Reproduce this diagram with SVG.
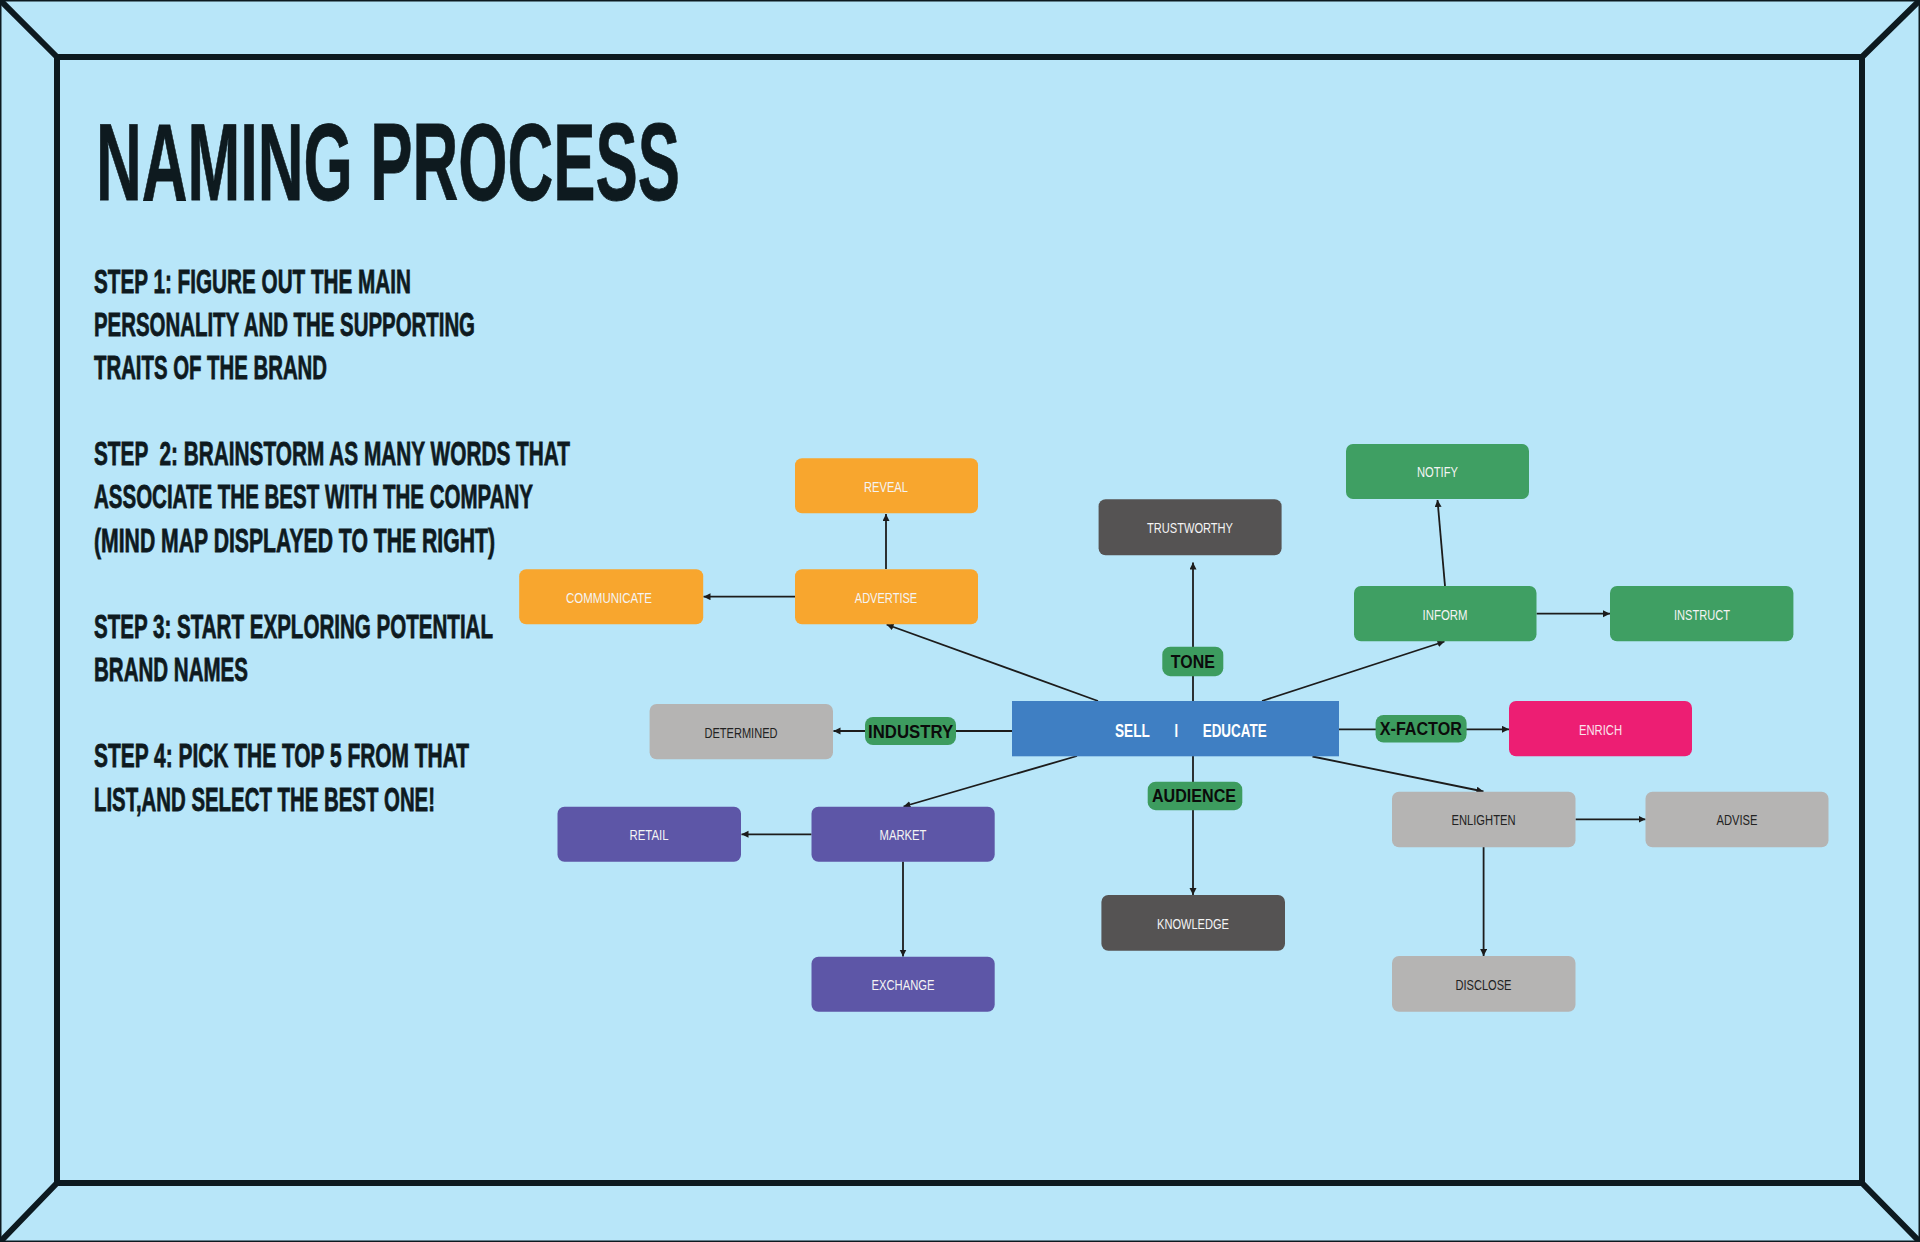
<svg xmlns="http://www.w3.org/2000/svg" width="1920" height="1242" viewBox="0 0 1920 1242">
<defs>
<style>
.frame{fill:none;stroke:#0d1a20;stroke-width:6;stroke-linecap:round;stroke-linejoin:miter}
.hd{font-family:"Liberation Sans",Arial,sans-serif;font-weight:bold;fill:#0e1a1f;stroke:#0e1a1f;stroke-width:0.8;lengthAdjust:spacingAndGlyphs}
.node rect{stroke:none}
.lbl{font-family:"Liberation Sans",Arial,sans-serif;font-size:15px;text-anchor:middle;fill:#f4f4f4}
.dark{fill:#222222}
.pill{fill:#3d9c5f}
.ptxt{font-family:"Liberation Sans",Arial,sans-serif;font-size:18.5px;font-weight:bold;text-anchor:middle;fill:#0b0b0b}
.orange{fill:#f8a62e}
.dgray{fill:#555353}
.green{fill:#3f9f63}
.pink{fill:#ed1e73}
.lgray{fill:#b5b4b3}
.purple{fill:#5d56a7}
.blue{fill:#3f7fc3}
.ctxt{font-family:"Liberation Sans",Arial,sans-serif;font-size:18.6px;font-weight:bold;fill:#ffffff}
#connectors line{stroke:#1c1c1c;stroke-width:1.8;fill:none}
</style>
<marker id="arr" markerUnits="userSpaceOnUse" markerWidth="8" markerHeight="8" refX="7" refY="3.5" orient="auto">
<path d="M0,0 L7,3.5 L0,7 Z" fill="#1c1c1c"/>
</marker>
</defs>
<rect x="0" y="0" width="1920" height="1242" fill="#b8e6f9"/>
<g id="frame">
<rect x="0.75" y="0.75" width="1918.5" height="1240.5" fill="none" stroke="#0d1a20" stroke-width="1.5"/>
<rect class="frame" x="57" y="57" width="1805" height="1126"/>
<line class="frame" x1="0" y1="0" x2="57" y2="57"/>
<line class="frame" x1="1920" y1="0" x2="1862" y2="57"/>
<line class="frame" x1="0" y1="1242" x2="57" y2="1183"/>
<line class="frame" x1="1920" y1="1242" x2="1862" y2="1183"/>
</g>
<g id="heading">
<text class="hd" x="96" y="200" font-size="109" textLength="584" lengthAdjust="spacingAndGlyphs" stroke-width="1.5">NAMING PROCESS</text>
<text class="hd" x="94" y="293" font-size="34" textLength="317" lengthAdjust="spacingAndGlyphs">STEP 1: FIGURE OUT THE MAIN</text>
<text class="hd" x="94" y="336" font-size="34" textLength="381" lengthAdjust="spacingAndGlyphs">PERSONALITY AND THE SUPPORTING</text>
<text class="hd" x="94" y="378.5" font-size="34" textLength="233" lengthAdjust="spacingAndGlyphs">TRAITS OF THE BRAND</text>
<text class="hd" x="94" y="465" font-size="34" textLength="476" lengthAdjust="spacingAndGlyphs" xml:space="preserve">STEP  2: BRAINSTORM AS MANY WORDS THAT</text>
<text class="hd" x="94" y="508" font-size="34" textLength="439" lengthAdjust="spacingAndGlyphs">ASSOCIATE THE BEST WITH THE COMPANY</text>
<text class="hd" x="94" y="551.5" font-size="34" textLength="401" lengthAdjust="spacingAndGlyphs">(MIND MAP DISPLAYED TO THE RIGHT)</text>
<text class="hd" x="94" y="638" font-size="34" textLength="399" lengthAdjust="spacingAndGlyphs">STEP 3: START EXPLORING POTENTIAL</text>
<text class="hd" x="94" y="681" font-size="34" textLength="154" lengthAdjust="spacingAndGlyphs">BRAND NAMES</text>
<text class="hd" x="94" y="767" font-size="34" textLength="375" lengthAdjust="spacingAndGlyphs">STEP 4: PICK THE TOP 5 FROM THAT</text>
<text class="hd" x="94" y="810.5" font-size="34" textLength="341" lengthAdjust="spacingAndGlyphs">LIST,AND SELECT THE BEST ONE!</text>
</g>
<g id="connectors">
<line x1="1098" y1="701" x2="886.6" y2="624.5" marker-end="url(#arr)"/>
<line x1="886" y1="569" x2="886" y2="514" marker-end="url(#arr)"/>
<line x1="795" y1="596.7" x2="703.5" y2="596.7" marker-end="url(#arr)"/>
<line x1="1193" y1="701" x2="1193" y2="562.5" marker-end="url(#arr)"/>
<line x1="1262" y1="701" x2="1444.5" y2="641.5" marker-end="url(#arr)"/>
<line x1="1445" y1="586" x2="1437.5" y2="500" marker-end="url(#arr)"/>
<line x1="1536.5" y1="613.7" x2="1610" y2="613.7" marker-end="url(#arr)"/>
<line x1="1339" y1="729.3" x2="1509" y2="729.3" marker-end="url(#arr)"/>
<line x1="1012" y1="731" x2="833.5" y2="731" marker-end="url(#arr)"/>
<line x1="1077" y1="756" x2="903.5" y2="806.5" marker-end="url(#arr)"/>
<line x1="811.5" y1="834.3" x2="741.5" y2="834.3" marker-end="url(#arr)"/>
<line x1="903" y1="861.5" x2="903" y2="956.5" marker-end="url(#arr)"/>
<line x1="1193" y1="756" x2="1193" y2="895" marker-end="url(#arr)"/>
<line x1="1312.5" y1="756.5" x2="1483.5" y2="791.5" marker-end="url(#arr)"/>
<line x1="1575.5" y1="819.3" x2="1645.5" y2="819.3" marker-end="url(#arr)"/>
<line x1="1483.6" y1="847" x2="1483.6" y2="956" marker-end="url(#arr)"/>
</g>
<g id="node-center" class="node">
<rect class="blue" x="1012" y="701" width="327" height="55.3"/>
<text class="ctxt" y="736.7"><tspan x="1115" textLength="34.5" lengthAdjust="spacingAndGlyphs">SELL</tspan> <tspan x="1174.5" textLength="3.5" lengthAdjust="spacingAndGlyphs">I</tspan> <tspan x="1202.7" textLength="64" lengthAdjust="spacingAndGlyphs">EDUCATE</tspan></text>
</g>
<g id="node-reveal" class="node"><rect class="orange" x="795" y="458.3" width="183" height="55" rx="7"/><text class="lbl" x="886" y="491.7" textLength="44" lengthAdjust="spacingAndGlyphs">REVEAL</text></g>
<g id="node-advertise" class="node"><rect class="orange" x="795" y="569.3" width="183" height="55" rx="7"/><text class="lbl" x="886" y="602.7" textLength="62.5" lengthAdjust="spacingAndGlyphs">ADVERTISE</text></g>
<g id="node-communicate" class="node"><rect class="orange" x="519.2" y="569.3" width="184" height="55" rx="7"/><text class="lbl" x="609" y="602.7" textLength="86" lengthAdjust="spacingAndGlyphs">COMMUNICATE</text></g>
<g id="node-determined" class="node"><rect class="lgray" x="649.6" y="704" width="183.4" height="55.3" rx="7"/><text class="lbl dark" x="741" y="737.5" textLength="73" lengthAdjust="spacingAndGlyphs">DETERMINED</text></g>
<g id="node-trustworthy" class="node"><rect class="dgray" x="1098.6" y="499.3" width="183" height="56" rx="7"/><text class="lbl" x="1190" y="533" textLength="86" lengthAdjust="spacingAndGlyphs">TRUSTWORTHY</text></g>
<g id="node-notify" class="node"><rect class="green" x="1346" y="444" width="183" height="55" rx="7"/><text class="lbl" x="1437.5" y="477.4" textLength="41" lengthAdjust="spacingAndGlyphs">NOTIFY</text></g>
<g id="node-inform" class="node"><rect class="green" x="1354" y="586" width="182.5" height="55.3" rx="7"/><text class="lbl" x="1445" y="619.5" textLength="45" lengthAdjust="spacingAndGlyphs">INFORM</text></g>
<g id="node-instruct" class="node"><rect class="green" x="1610" y="586" width="183.4" height="55.3" rx="7"/><text class="lbl" x="1702" y="619.5" textLength="56" lengthAdjust="spacingAndGlyphs">INSTRUCT</text></g>
<g id="node-enrich" class="node"><rect class="pink" x="1509" y="701" width="183" height="55.3" rx="7"/><text class="lbl" x="1600.5" y="734.5" textLength="43" lengthAdjust="spacingAndGlyphs" style="fill:#fbe3ec">ENRICH</text></g>
<g id="node-enlighten" class="node"><rect class="lgray" x="1392" y="791.7" width="183.5" height="55.5" rx="7"/><text class="lbl dark" x="1483.5" y="825.2" textLength="64" lengthAdjust="spacingAndGlyphs">ENLIGHTEN</text></g>
<g id="node-advise" class="node"><rect class="lgray" x="1645.5" y="791.7" width="183" height="55.5" rx="7"/><text class="lbl dark" x="1737" y="825.2" textLength="41" lengthAdjust="spacingAndGlyphs">ADVISE</text></g>
<g id="node-disclose" class="node"><rect class="lgray" x="1392" y="956" width="183.5" height="55.7" rx="7"/><text class="lbl dark" x="1483.5" y="989.5" textLength="56" lengthAdjust="spacingAndGlyphs">DISCLOSE</text></g>
<g id="node-knowledge" class="node"><rect class="dgray" x="1101.4" y="895" width="183.6" height="55.7" rx="7"/><text class="lbl" x="1193" y="928.5" textLength="72" lengthAdjust="spacingAndGlyphs">KNOWLEDGE</text></g>
<g id="node-market" class="node"><rect class="purple" x="811.5" y="806.7" width="183.2" height="55" rx="7"/><text class="lbl" x="903" y="840.1" textLength="47" lengthAdjust="spacingAndGlyphs">MARKET</text></g>
<g id="node-retail" class="node"><rect class="purple" x="557.5" y="806.7" width="183.5" height="55" rx="7"/><text class="lbl" x="649" y="840.1" textLength="39" lengthAdjust="spacingAndGlyphs">RETAIL</text></g>
<g id="node-exchange" class="node"><rect class="purple" x="811.5" y="956.7" width="183.2" height="55" rx="7"/><text class="lbl" x="903" y="990.1" textLength="63" lengthAdjust="spacingAndGlyphs">EXCHANGE</text></g>
<g id="label-tone"><rect class="pill" x="1162.3" y="646.7" width="61" height="29.5" rx="8"/><text class="ptxt" x="1192.8" y="668.3" textLength="44" lengthAdjust="spacingAndGlyphs">TONE</text></g>
<g id="label-industry"><rect class="pill" x="865" y="717" width="91" height="28" rx="8"/><text class="ptxt" x="910.6" y="738.3" textLength="85" lengthAdjust="spacingAndGlyphs">INDUSTRY</text></g>
<g id="label-xfactor"><rect class="pill" x="1375.6" y="715" width="91" height="27.5" rx="8"/><text class="ptxt" x="1420.8" y="735.3" textLength="82" lengthAdjust="spacingAndGlyphs">X-FACTOR</text></g>
<g id="label-audience"><rect class="pill" x="1147.7" y="781.7" width="94.6" height="28.5" rx="8"/><text class="ptxt" x="1194" y="802" textLength="84" lengthAdjust="spacingAndGlyphs">AUDIENCE</text></g>
</svg>
